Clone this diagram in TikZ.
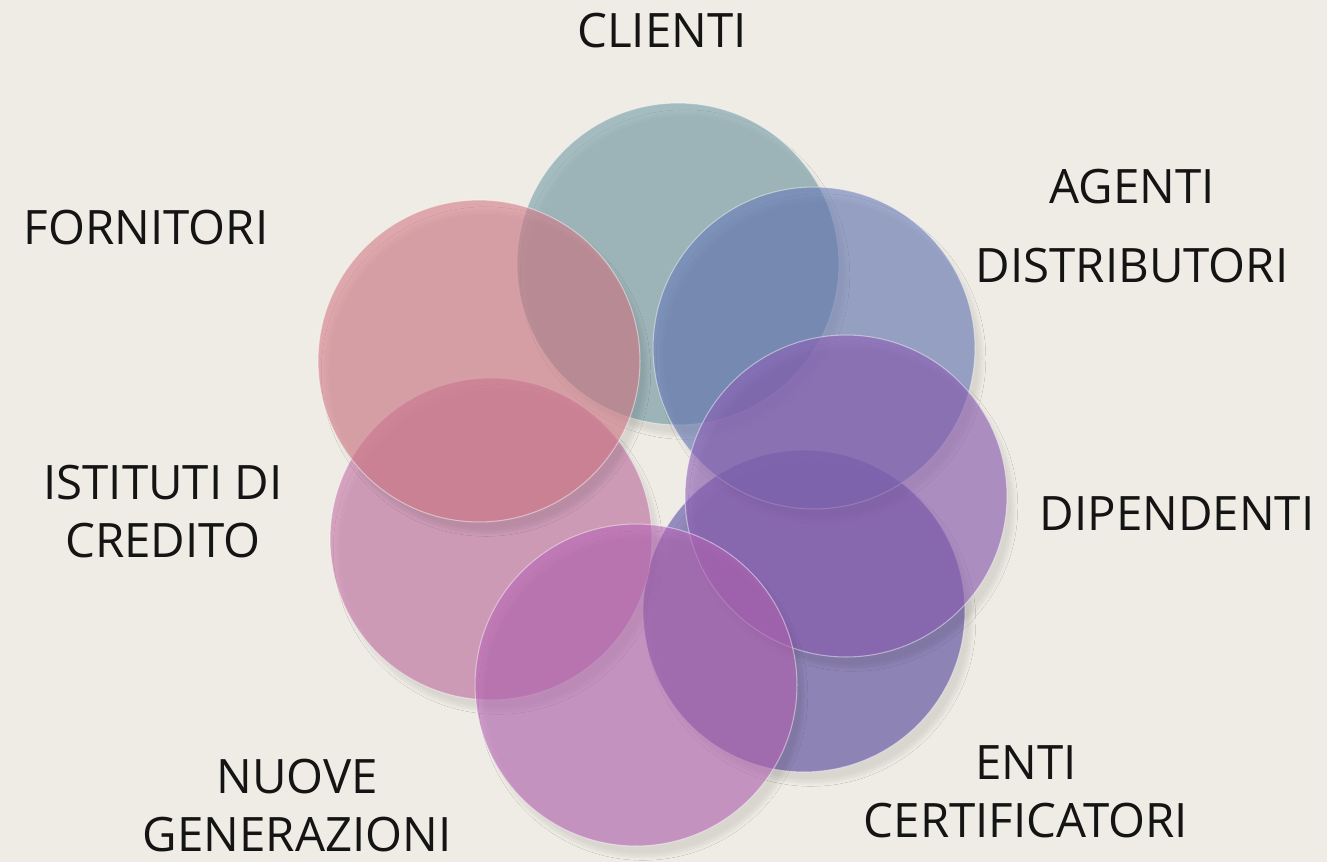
\documentclass[tikz,border=0pt]{standalone}
\usepackage{fontspec}
\setmainfont{Open Sans}
\usetikzlibrary{shadows.blur}

\definecolor{bgc}{RGB}{238,236,228}
\definecolor{cteal}{RGB}{116,156,168}
\definecolor{cblue}{RGB}{104,123,185}
\definecolor{cpurple}{RGB}{141,93,181}
\definecolor{clav}{RGB}{91,76,165}
\definecolor{cmagenta}{RGB}{183,101,181}
\definecolor{cpink}{RGB}{196,114,165}
\definecolor{csalmon}{RGB}{212,122,136}

\tikzset{
  ring/.style={circle,minimum size=6.44cm,inner sep=0pt,fill=#1,fill opacity=0.6,
    draw=white,draw opacity=0.45,line width=0.6pt,
    blur shadow={shadow xshift=4pt,shadow yshift=-6pt,shadow opacity=15,shadow blur steps=8}},
  lbl/.style={font=\fontsize{27}{33}\selectfont,text=black!92,align=center}
}

\begin{document}
\begin{tikzpicture}[x=0.02cm,y=-0.02cm]
    \fill[bgc] (0,0) rectangle (1327,862);
    \useasboundingbox (0,0) rectangle (1327,862);

    % circles
    \node[ring=clav](en)at(804,611){};
    \node[ring=cteal](cl)at(678,264){};
    \node[ring=cblue](ag)at(814,348){};
    \node[ring=cpurple](di)at(846,496){};
    \node[ring=cpink](is)at(491,539){};
    \node[ring=csalmon](fo)at(479,361){};
    \node[ring=cmagenta](nu)at(636,685){};

    % labels
    \node[lbl](lcl)at(662,31){CLIENTI};
    \node[lbl](lag)at(1132,226){AGENTI\\[12pt]DISTRIBUTORI};
    \node[lbl](ldi)at(1177,514){DIPENDENTI};
    \node[lbl](len)at(1026,792){ENTI\\CERTIFICATORI};
    \node[lbl](lnu)at(297,806){NUOVE\\GENERAZIONI};
    \node[lbl](lis)at(163,512){ISTITUTI DI\\CREDITO};
    \node[lbl](lfo)at(146,228){FORNITORI};
\end{tikzpicture}
\end{document}
